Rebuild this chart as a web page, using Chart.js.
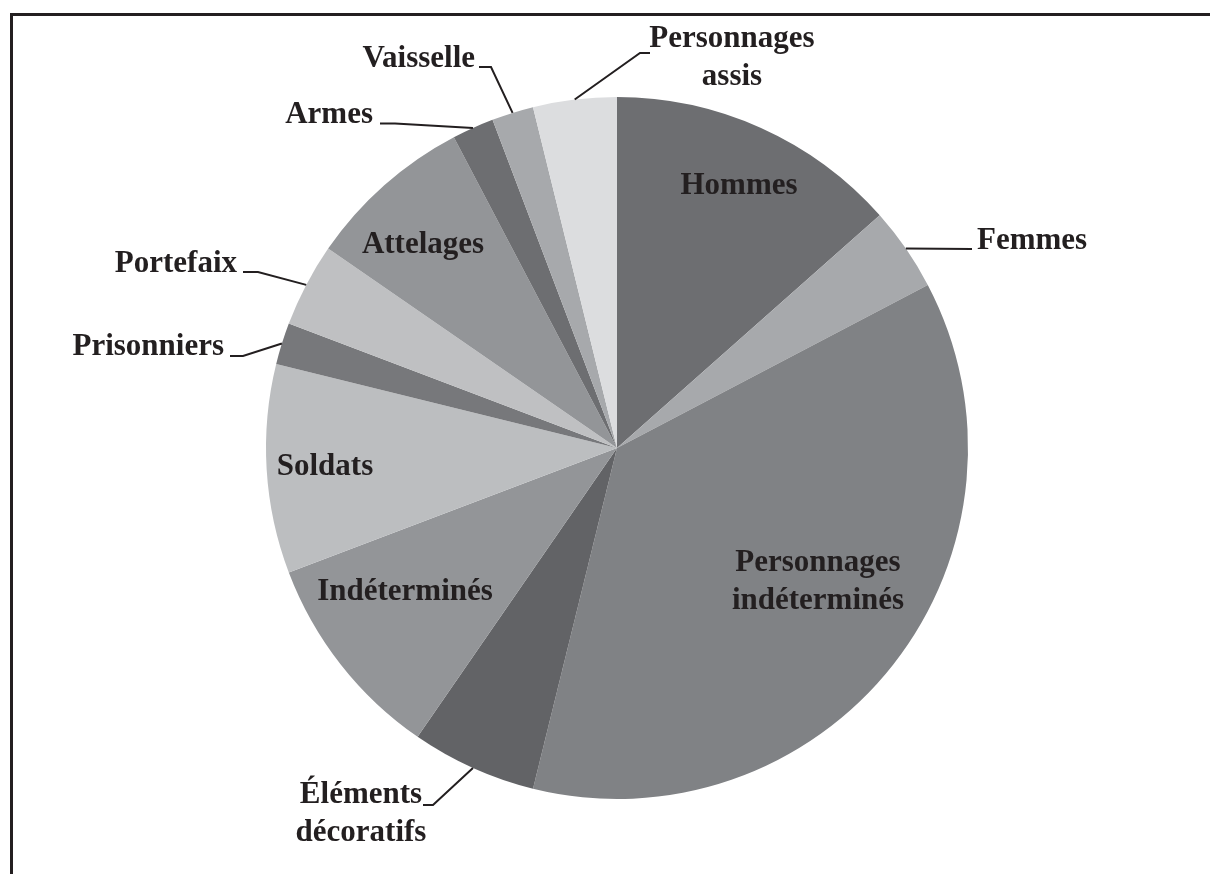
<!DOCTYPE html>
<html>
<head>
<meta charset="utf-8">
<script src="https://cdn.jsdelivr.net/npm/chart.js@4"></script>
<style>
    html, body { margin: 0; padding: 0; background: #ffffff; }
    #figureChart { display: block; }
</style>
</head>
<body>
<canvas id="figureChart" width="1210" height="874"></canvas>
<script>
// Categories, clockwise from 12 o'clock (multi-line labels as arrays)
var categories = [
    ['Hommes'],
    ['Femmes'],
    ['Personnages', 'indéterminés'],
    ['Éléments', 'décoratifs'],
    ['Indéterminés'],
    ['Soldats'],
    ['Prisonniers'],
    ['Portefaix'],
    ['Attelages'],
    ['Armes'],
    ['Vaisselle'],
    ['Personnages', 'assis']
];

// Number of figures per category
var counts = [7, 2, 19, 3, 5, 5, 1, 2, 4, 1, 1, 2];

var sliceColors = [
    '#6d6e71', '#a7a9ac', '#808285', '#626366', '#939598', '#bcbec0',
    '#77787b', '#bfc0c2', '#939598', '#6d6e71', '#a7a9ac', '#dcdddf'
];

// Label placement, in px relative to the pie centre.
// x/y = anchor of the first text line (baseline); end/elbow = leader path.
var labelPlacement = [
    { align: 'center', x: 122, y: -254 },
    { align: 'left', x: 360, y: -199, end: [355, -199] },
    { align: 'center', x: 201, y: 123 },
    { align: 'center', x: -256, y: 355, elbow: [-184, 357], end: [-194, 357] },
    { align: 'center', x: -212, y: 152 },
    { align: 'center', x: -292, y: 27 },
    { align: 'right', x: -393, y: -93, elbow: [-374, -92], end: [-387, -92] },
    { align: 'right', x: -380, y: -176, elbow: [-359, -176], end: [-374, -176] },
    { align: 'center', x: -194, y: -195 },
    { align: 'right', x: -244, y: -325, elbow: [-222, -324.5], end: [-237, -324.5] },
    { align: 'right', x: -142, y: -381, elbow: [-126, -381], end: [-138, -381] },
    { align: 'center', x: 115, y: -401, elbow: [23, -395], end: [33, -395] }
];

var inkColor = '#231f20';
var labelFont = 'bold 31px "Liberation Serif", "Times New Roman", serif';
var lineGap = 38;

// Frame along the top and left edges
var framePlugin = {
    id: 'frame',
    beforeDraw: function(chart) {
        var ctx = chart.ctx;
        ctx.save();
        ctx.strokeStyle = inkColor;
        ctx.lineWidth = 3;
        ctx.beginPath();
        ctx.moveTo(11.5, chart.height);
        ctx.lineTo(11.5, 14.5);
        ctx.lineTo(chart.width, 14.5);
        ctx.stroke();
        ctx.restore();
    }
};

// Slice labels, with leader lines for the ones placed outside the pie
var sliceLabelPlugin = {
    id: 'sliceLabels',
    afterDatasetsDraw: function(chart) {
        var ctx = chart.ctx;
        var meta = chart.getDatasetMeta(0);
        ctx.save();
        ctx.font = labelFont;
        ctx.fillStyle = inkColor;
        ctx.strokeStyle = inkColor;
        ctx.lineWidth = 2;
        ctx.textBaseline = 'alphabetic';
        meta.data.forEach(function(arc, i) {
            var p = labelPlacement[i];
            var cx = arc.x, cy = arc.y;
            if (p.end) {
                var mid = (arc.startAngle + arc.endAngle) / 2;
                ctx.beginPath();
                ctx.moveTo(cx + Math.cos(mid) * arc.outerRadius, cy + Math.sin(mid) * arc.outerRadius);
                if (p.elbow) ctx.lineTo(cx + p.elbow[0], cy + p.elbow[1]);
                ctx.lineTo(cx + p.end[0], cy + p.end[1]);
                ctx.stroke();
            }
            ctx.textAlign = p.align;
            chart.data.labels[i].forEach(function(line, k) {
                ctx.fillText(line, cx + p.x, cy + p.y + k * lineGap);
            });
        });
        ctx.restore();
    }
};

var figureChart = new Chart(document.getElementById('figureChart'), {
    type: 'pie',
    data: {
        labels: categories,
        datasets: [{
            data: counts,
            backgroundColor: sliceColors,
            borderWidth: 0
        }]
    },
    options: {
        responsive: false,
        animation: false,
        layout: {
            padding: { top: 97, bottom: 75, left: 200, right: 176 }
        },
        plugins: {
            legend: { display: false },
            tooltip: { enabled: false }
        }
    },
    plugins: [framePlugin, sliceLabelPlugin]
});
</script>
</body>
</html>
